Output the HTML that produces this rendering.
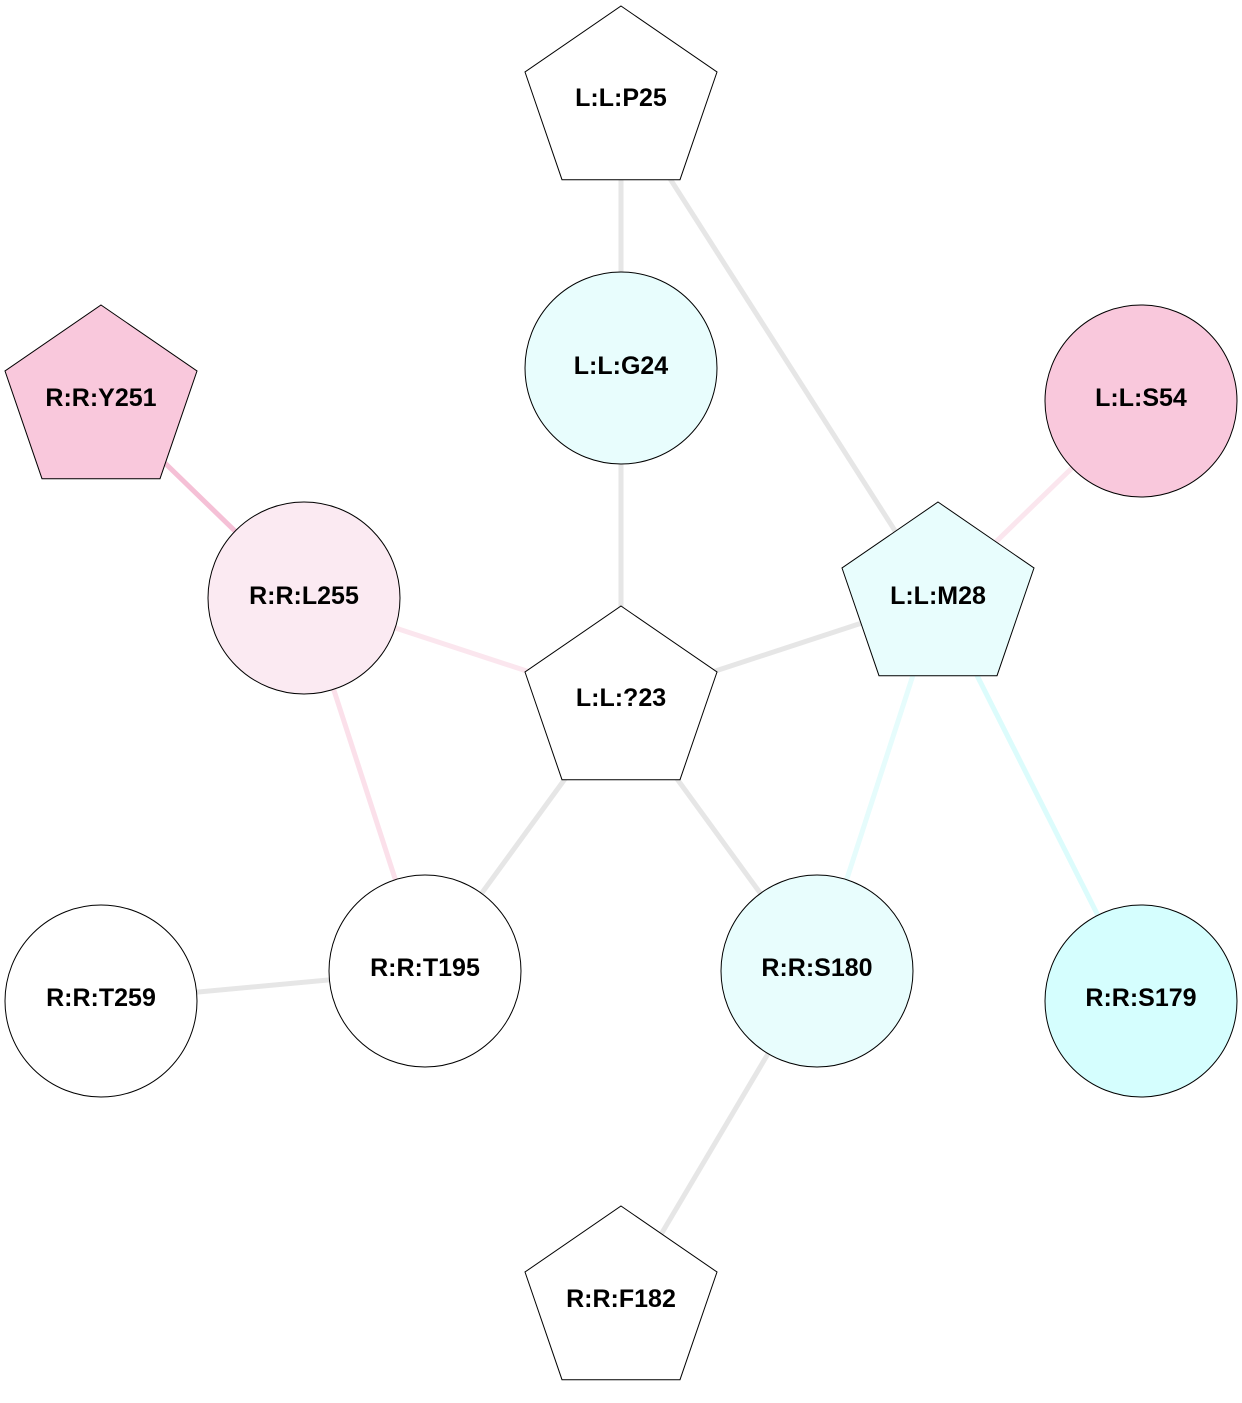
<!DOCTYPE html>
<html><head><meta charset="utf-8"><style>
html,body{margin:0;padding:0;background:#fff;}
svg{display:block;}
text{font-family:"Liberation Sans",Arial,sans-serif;font-weight:bold;font-size:25px;text-anchor:middle;dominant-baseline:central;fill:#000;}
</style></head><body>
<svg width="1242" height="1403" viewBox="0 0 1242 1403" xmlns="http://www.w3.org/2000/svg">
<g stroke-width="5" fill="none">
<line x1="621" y1="102" x2="621" y2="368" stroke="#e6e6e6"/>
<line x1="621" y1="102" x2="938" y2="598" stroke="#e6e6e6"/>
<line x1="621" y1="368" x2="621" y2="702" stroke="#e6e6e6"/>
<line x1="101" y1="401" x2="304" y2="598" stroke="#f5c0d6"/>
<line x1="1141" y1="401" x2="938" y2="598" stroke="#fbe6ee"/>
<line x1="304" y1="598" x2="621" y2="702" stroke="#fbe6ee"/>
<line x1="938" y1="598" x2="621" y2="702" stroke="#e6e6e6"/>
<line x1="304" y1="598" x2="425" y2="971" stroke="#fbe0ea"/>
<line x1="621" y1="702" x2="425" y2="971" stroke="#e6e6e6"/>
<line x1="621" y1="702" x2="817" y2="971" stroke="#e6e6e6"/>
<line x1="938" y1="598" x2="817" y2="971" stroke="#e6fcfc"/>
<line x1="938" y1="598" x2="1141" y2="1001" stroke="#dcfcfc"/>
<line x1="425" y1="971" x2="101" y2="1001" stroke="#e6e6e6"/>
<line x1="817" y1="971" x2="621" y2="1302" stroke="#e6e6e6"/>
</g>
<g stroke="#000" stroke-width="1">
<polygon points="621,6 717,72 680,179.7 562,179.7 525,72" fill="#fff"/>
<circle cx="621" cy="368" r="96" fill="#e8fdfd"/>
<polygon points="101,305 197,371 160,478.7 42,478.7 5,371" fill="#f9c8dc"/>
<circle cx="1141" cy="401" r="96" fill="#f9c8dc"/>
<circle cx="304" cy="598" r="96" fill="#fbeaf2"/>
<polygon points="938,502 1034,568 997,675.7 879,675.7 842,568" fill="#e8fdfd"/>
<polygon points="621,606 717,672 680,779.7 562,779.7 525,672" fill="#fff"/>
<circle cx="425" cy="971" r="96" fill="#fff"/>
<circle cx="101" cy="1001" r="96" fill="#fff"/>
<circle cx="817" cy="971" r="96" fill="#e8fdfd"/>
<circle cx="1141" cy="1001" r="96" fill="#d5fefe"/>
<polygon points="621,1206 717,1272 680,1379.7 562,1379.7 525,1272" fill="#fff"/>
</g>
<text x="621" y="98">L:L:P25</text>
<text x="621" y="366">L:L:G24</text>
<text x="101" y="398">R:R:Y251</text>
<text x="1141" y="398">L:L:S54</text>
<text x="304" y="596">R:R:L255</text>
<text x="938" y="596">L:L:M28</text>
<text x="621" y="698">L:L:?23</text>
<text x="425" y="968">R:R:T195</text>
<text x="101" y="998">R:R:T259</text>
<text x="817" y="968">R:R:S180</text>
<text x="1141" y="998">R:R:S179</text>
<text x="621" y="1299">R:R:F182</text>
</svg>
</body></html>
